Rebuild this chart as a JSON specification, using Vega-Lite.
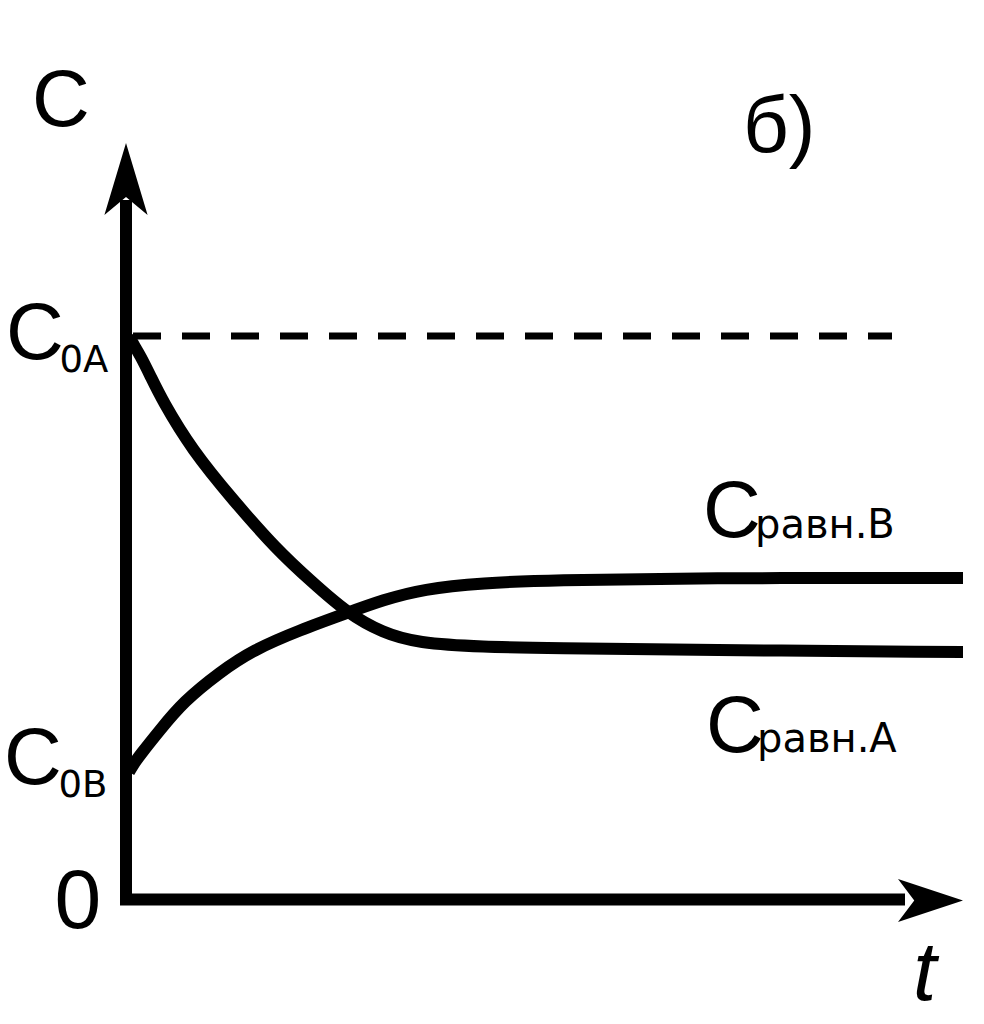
{
  "$schema": "https://vega.github.io/schema/vega-lite/v6.json",
  "width": 984,
  "height": 1024,
  "padding": 0,
  "autosize": {"type": "none"},
  "background": "white",
  "config": {"view": {"stroke": null}},
  "encoding": {
    "x": {"field": "t", "type": "quantitative", "scale": {"domain": [-1.26, 8.58], "nice": false, "zero": false}, "axis": null},
    "y": {"field": "c", "type": "quantitative", "scale": {"domain": [-1.255, 8.985], "nice": false, "zero": false}, "axis": null}
  },
  "layer": [
    {
      "data": {"values": [{"t": 0.07, "t2": 7.66, "c": 5.625}]},
      "mark": {"type": "rule", "color": "black", "strokeWidth": 7, "strokeDash": [28, 21]},
      "encoding": {"x2": {"field": "t2"}}
    },
    {
      "data": {"values": [{"t": 0, "c": -0.05, "c2": 6.985}]},
      "mark": {"type": "rule", "color": "black", "strokeWidth": 12},
      "encoding": {"y2": {"field": "c2"}}
    },
    {
      "data": {"values": [{"t": -0.06, "t2": 7.79, "c": -0.01}]},
      "mark": {"type": "rule", "color": "black", "strokeWidth": 12},
      "encoding": {"x2": {"field": "t2"}}
    },
    {
      "data": {"values": [{"t": 0, "c": 7.195}]},
      "mark": {"type": "point", "shape": "M0,-1L0.6,1L0,0.5L-0.6,1Z", "filled": true, "color": "black", "opacity": 1, "size": 5184, "strokeWidth": 0}
    },
    {
      "data": {"values": [{"t": 8.045, "c": -0.02}]},
      "mark": {"type": "point", "shape": "M1,0L-1,-0.66L-0.5,0L-1,0.66Z", "filled": true, "color": "black", "opacity": 1, "size": 4225, "strokeWidth": 0}
    },
    {
      "data": {"values": [
        {"s": "A", "t": 0.03, "c": 5.625},
        {"s": "A", "t": 0.08, "c": 5.53},
        {"s": "A", "t": 0.14, "c": 5.435},
        {"s": "A", "t": 0.24, "c": 5.235},
        {"s": "A", "t": 0.36, "c": 4.985},
        {"s": "A", "t": 0.66, "c": 4.485},
        {"s": "A", "t": 1.07, "c": 3.985},
        {"s": "A", "t": 1.51, "c": 3.485},
        {"s": "A", "t": 1.86, "c": 3.165},
        {"s": "A", "t": 2.21, "c": 2.855},
        {"s": "A", "t": 2.57, "c": 2.655},
        {"s": "A", "t": 2.91, "c": 2.555},
        {"s": "A", "t": 3.57, "c": 2.515},
        {"s": "A", "t": 4.24, "c": 2.505},
        {"s": "A", "t": 5.74, "c": 2.485},
        {"s": "A", "t": 8.3, "c": 2.465},
        {"s": "A", "t": 8.37, "c": 2.465},
        {"s": "B", "t": 0.03, "c": 1.265},
        {"s": "B", "t": 0.08, "c": 1.35},
        {"s": "B", "t": 0.14, "c": 1.435},
        {"s": "B", "t": 0.34, "c": 1.685},
        {"s": "B", "t": 0.57, "c": 1.965},
        {"s": "B", "t": 0.94, "c": 2.265},
        {"s": "B", "t": 1.27, "c": 2.485},
        {"s": "B", "t": 1.74, "c": 2.685},
        {"s": "B", "t": 2.21, "c": 2.855},
        {"s": "B", "t": 2.57, "c": 2.985},
        {"s": "B", "t": 2.97, "c": 3.095},
        {"s": "B", "t": 3.57, "c": 3.155},
        {"s": "B", "t": 4.24, "c": 3.185},
        {"s": "B", "t": 5.74, "c": 3.205},
        {"s": "B", "t": 8.3, "c": 3.205},
        {"s": "B", "t": 8.37, "c": 3.205}
      ]},
      "mark": {"type": "line", "color": "black", "strokeWidth": 12, "interpolate": "basis", "strokeCap": "butt"},
      "encoding": {"detail": {"field": "s"}}
    },
    {
      "data": {"values": [
        {"label": "C", "t": -0.94, "c": 7.725},
        {"label": "C", "t": -1.2, "c": 5.395},
        {"label": "C", "t": -1.22, "c": 1.145},
        {"label": "C", "t": 5.77, "c": 3.615},
        {"label": "C", "t": 5.8, "c": 1.465}
      ]},
      "mark": {"type": "text", "font": "Liberation Sans", "fontSize": 80, "align": "left", "baseline": "alphabetic", "color": "black"},
      "encoding": {"text": {"field": "label"}}
    },
    {
      "data": {"values": [
        {"label": "0A", "t": -0.665, "c": 5.265},
        {"label": "0B", "t": -0.675, "c": 1.015}
      ]},
      "mark": {"type": "text", "font": "DejaVu Sans", "fontSize": 37, "align": "left", "baseline": "alphabetic", "color": "black"},
      "encoding": {"text": {"field": "label"}}
    },
    {
      "data": {"values": [
        {"label": "равн.В", "t": 6.29, "c": 3.605},
        {"label": "равн.А", "t": 6.31, "c": 1.465}
      ]},
      "mark": {"type": "text", "font": "DejaVu Sans", "fontSize": 40, "align": "left", "baseline": "alphabetic", "color": "black"},
      "encoding": {"text": {"field": "label"}}
    },
    {
      "data": {"values": [{"label": "0", "t": -0.715, "c": -0.295}]},
      "mark": {"type": "text", "font": "Liberation Sans", "fontSize": 84, "align": "left", "baseline": "alphabetic", "color": "black"},
      "encoding": {"text": {"field": "label"}}
    },
    {
      "data": {"values": [{"label": "б)", "t": 6.17, "c": 7.465}]},
      "mark": {"type": "text", "font": "Liberation Sans", "fontSize": 80, "align": "left", "baseline": "alphabetic", "color": "black"},
      "encoding": {"text": {"field": "label"}}
    },
    {
      "data": {"values": [{"label": "t", "t": 7.87, "c": -1.015}]},
      "mark": {"type": "text", "font": "Liberation Sans", "fontSize": 84, "fontStyle": "italic", "align": "left", "baseline": "alphabetic", "color": "black"},
      "encoding": {"text": {"field": "label"}}
    }
  ]
}
